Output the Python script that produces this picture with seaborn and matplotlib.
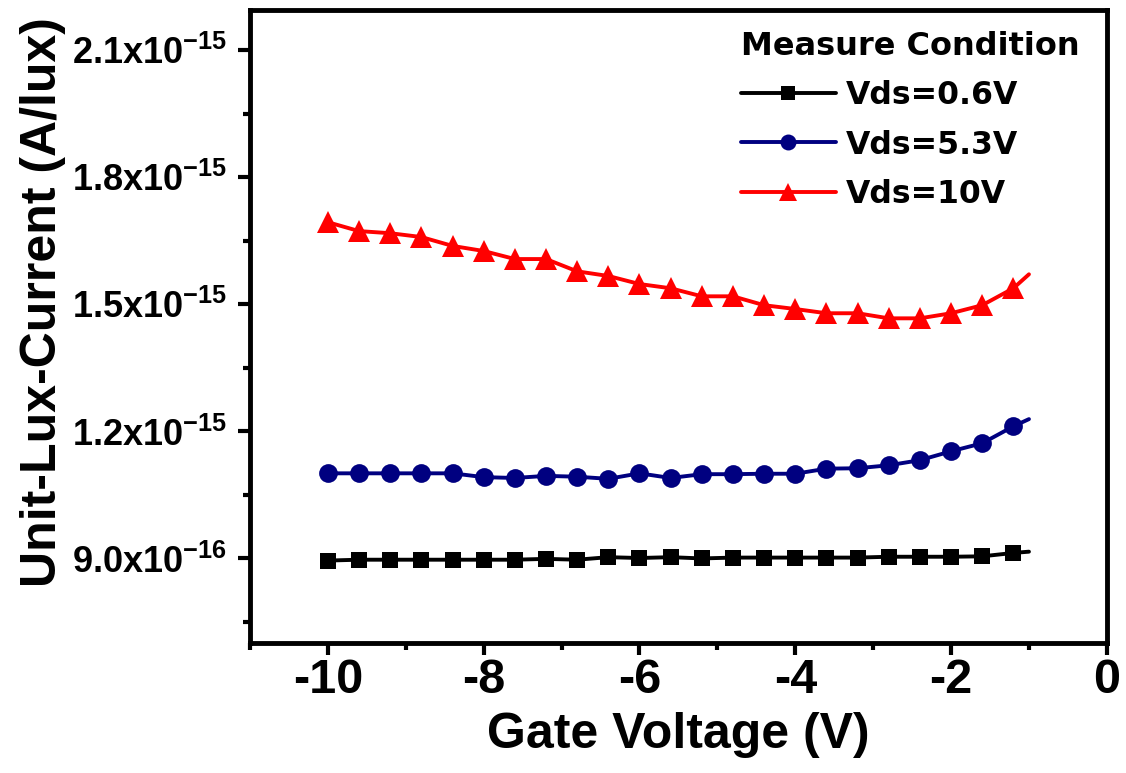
import matplotlib
matplotlib.use("Agg")
import matplotlib.pyplot as plt
import seaborn as sns
from matplotlib.ticker import MultipleLocator, FixedLocator

# ---- data (values in A/lux) ----
gate_voltage = [-10.0, -9.6, -9.2, -8.8, -8.4, -8.0, -7.6, -7.2, -6.8, -6.4, -6.0, -5.6,
                -5.2, -4.8, -4.4, -4.0, -3.6, -3.2, -2.8, -2.4, -2.0, -1.6, -1.2, -1.0]
vds_06 = [0.895, 0.897, 0.897, 0.897, 0.897, 0.897, 0.897, 0.899, 0.897, 0.903, 0.901, 0.903,
          0.900, 0.902, 0.902, 0.902, 0.902, 0.902, 0.904, 0.904, 0.904, 0.905, 0.913, 0.916]
vds_53 = [1.101, 1.101, 1.101, 1.101, 1.101, 1.092, 1.090, 1.095, 1.093, 1.088, 1.101, 1.090,
          1.099, 1.099, 1.100, 1.100, 1.112, 1.113, 1.120, 1.132, 1.153, 1.172, 1.212, 1.229]
vds_10 = [1.694, 1.673, 1.668, 1.659, 1.638, 1.626, 1.607, 1.607, 1.578, 1.567, 1.548, 1.538,
          1.519, 1.519, 1.498, 1.489, 1.479, 1.479, 1.467, 1.467, 1.479, 1.498, 1.538, 1.571]
scale = 1e-15
series_labels = ["Vds=0.6V", "Vds=5.3V", "Vds=10V"]
y_ticks = [0.9e-15, 1.2e-15, 1.5e-15, 1.8e-15, 2.1e-15]
y_tick_labels = ["9.0x10$^{-16}$", "1.2x10$^{-15}$", "1.5x10$^{-15}$",
                 "1.8x10$^{-15}$", "2.1x10$^{-15}$"]
y_minor = [0.75e-15, 1.05e-15, 1.35e-15, 1.65e-15, 1.95e-15]
x_ticks = [-10, -8, -6, -4, -2, 0]
x_tick_labels = ["-10", "-8", "-6", "-4", "-2", "0"]

sns.set_style("ticks")
plt.rcParams["font.family"] = ["Liberation Sans", "DejaVu Sans"]
plt.rcParams["font.weight"] = "bold"
plt.rcParams["text.color"] = "black"
plt.rcParams["axes.labelcolor"] = "black"
plt.rcParams["xtick.color"] = "black"
plt.rcParams["ytick.color"] = "black"
plt.rcParams["mathtext.fontset"] = "custom"
plt.rcParams["mathtext.rm"] = "Liberation Sans:bold"
plt.rcParams["mathtext.bf"] = "Liberation Sans:bold"
plt.rcParams["mathtext.it"] = "Liberation Sans:bold"
plt.rcParams["mathtext.default"] = "rm"

fig = plt.figure(figsize=(11.26, 7.73), dpi=100)
ax = fig.add_axes([0.222, 0.168, 0.761, 0.819])

styles = [
    (vds_06, "black", "s", 11.5),
    (vds_53, "#000080", "o", 13.5),
    (vds_10, "#ff0000", "^", 15.5),
]
mark_idx = list(range(len(gate_voltage) - 1))
for (vals, col, mk, ms), lab in zip(styles, series_labels):
    sns.lineplot(x=gate_voltage, y=[v * scale for v in vals], ax=ax, color=col,
                 marker=mk, markersize=ms, markeredgewidth=0, linewidth=2.8,
                 markevery=mark_idx, label=lab, errorbar=None)

ax.set_xlim(-11, 0)
ax.set_ylim(0.70e-15, 2.195e-15)
ax.set_xticks(x_ticks, labels=x_tick_labels)
ax.set_yticks(y_ticks, labels=y_tick_labels)
ax.xaxis.set_minor_locator(MultipleLocator(1))
ax.yaxis.set_minor_locator(FixedLocator(y_minor))

for s in ax.spines.values():
    s.set_linewidth(3.5)
    s.set_color("black")
    s.set_visible(True)

ax.tick_params(axis="both", which="major", direction="out", length=8.5, width=3, color="black")
ax.tick_params(axis="both", which="minor", direction="out", length=5, width=3, color="black")
ax.tick_params(axis="x", which="major", labelsize=35, pad=2)
ax.tick_params(axis="y", which="major", labelsize=26, pad=8)
for t in ax.get_xticklabels() + ax.get_yticklabels():
    t.set_fontweight("bold")

ax.set_xlabel("Gate Voltage (V)", fontsize=36, fontweight="bold", va="top")
ax.xaxis.set_label_coords(0.5, -0.109)
ax.set_ylabel("Unit-Lux-Current (A/lux)", fontsize=36, fontweight="bold")
ax.yaxis.set_label_coords(-0.215, 0.538)

leg = ax.legend(title="Measure Condition", loc="upper left", bbox_to_anchor=(0.573, 0.967),
                frameon=False, borderpad=0, borderaxespad=0, handlelength=3.0,
                handletextpad=0.33, labelspacing=0.58, alignment="left",
                prop={"family": "DejaVu Sans", "weight": "bold", "size": 22.7},
                title_fontproperties={"family": "DejaVu Sans", "weight": "bold", "size": 23},
                markerscale=0.85)

fig.savefig("out.png", dpi=100)
